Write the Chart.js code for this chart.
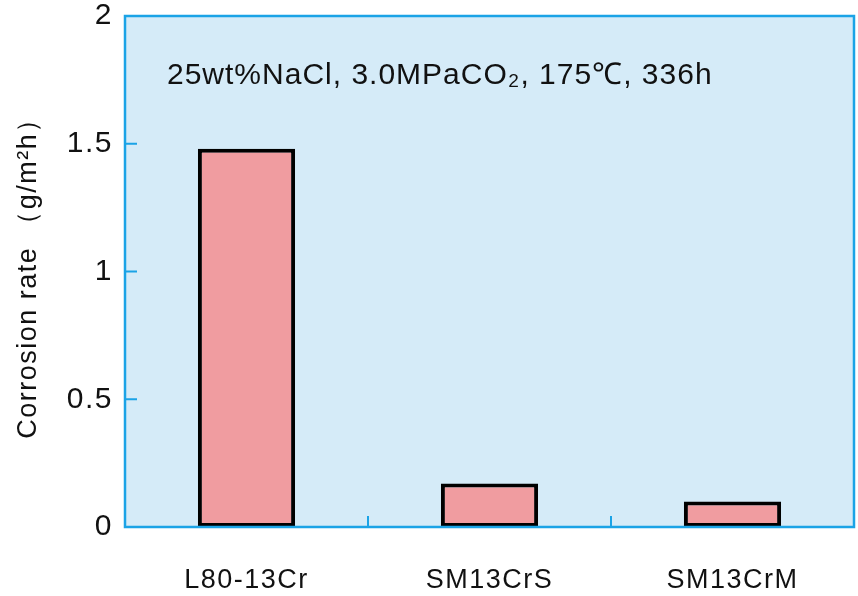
<!DOCTYPE html>
<html>
<head>
<meta charset="utf-8">
<script src="https://cdn.jsdelivr.net/npm/chart.js@4/dist/chart.umd.min.js"></script>
<style>
  html, body { margin: 0; padding: 0; background: #fff; }
  #wrap { width: 858px; height: 596px; }
</style>
</head>
<body>
<div id="wrap"><canvas id="chart" width="858" height="596"></canvas></div>
<script>
// Data
const steels = ['L80-13Cr', 'SM13CrS', 'SM13CrM'];
const corrosionRate = [1.48, 0.17, 0.10];
const yTicks = [0, 0.5, 1, 1.5, 2];
const condition = '25wt%NaCl, 3.0MPaCO₂, 175℃, 336h';

const FONT = '"Liberation Sans", Arial, sans-serif';
const FRAME = '#1ba3e6';

// Light blue plot background, frame and inner ticks
const framePlugin = {
    id: 'frame',
    beforeDraw(chart) {
        // the reference type is set a little wider than Liberation Sans
        chart.ctx.letterSpacing = '1.5px';
    },
    beforeDatasetsDraw(chart) {
        const { ctx, chartArea: a } = chart;
        ctx.save();
        ctx.fillStyle = '#d5ebf8';
        ctx.fillRect(a.left, a.top, a.right - a.left, a.bottom - a.top);
        ctx.fillStyle = '#111';
        ctx.font = '30px ' + FONT;
        ctx.letterSpacing = '1px';
        ctx.textBaseline = 'middle';
        ctx.fillText(condition, a.left + 42, a.top + 60);
        ctx.restore();
    },
    afterDatasetsDraw(chart) {
        const { ctx, chartArea: a, scales } = chart;
        ctx.save();
        ctx.strokeStyle = FRAME;
        ctx.lineWidth = 2.5;
        ctx.strokeRect(a.left, a.top, a.right - a.left, a.bottom - a.top);
        ctx.lineWidth = 2;
        ctx.beginPath();
        yTicks.forEach(v => {
            const y = scales.y.getPixelForValue(v);
            ctx.moveTo(a.left, y);
            ctx.lineTo(a.left + 12, y);
        });
        // ticks between categories on the x axis
        for (let i = 0; i < steels.length - 1; i++) {
            const x = (scales.x.getPixelForValue(i) + scales.x.getPixelForValue(i + 1)) / 2;
            ctx.moveTo(x, a.bottom);
            ctx.lineTo(x, a.bottom - 11);
        }
        ctx.stroke();
        ctx.restore();
    }
};

new Chart(document.getElementById('chart'), {
    type: 'bar',
    data: {
        labels: steels,
        datasets: [{
            data: corrosionRate,
            backgroundColor: '#f09ca0',
            borderColor: '#000',
            borderWidth: 4,
            borderSkipped: false,
            categoryPercentage: 1,
            barPercentage: 0.4
        }]
    },
    options: {
        responsive: false,
        animation: false,
        layout: { padding: { top: 0, right: 4, left: 0, bottom: 0 } },
        plugins: {
            legend: { display: false },
            tooltip: { enabled: false }
        },
        scales: {
            x: {
                grid: { display: false },
                border: { display: false },
                ticks: { color: '#111', font: { family: FONT, size: 27 }, padding: 29 },
                afterFit(s) { s.height = 69; }
            },
            y: {
                min: 0,
                max: 2,
                afterBuildTicks(s) { s.ticks = yTicks.map(v => ({ value: v })); },
                grid: { display: false },
                border: { display: false },
                ticks: {
                    color: '#111',
                    font: { family: FONT, size: 30, lineHeight: 0.8 },
                    padding: 4,
                    callback: v => String(v)
                },
                title: {
                    display: true,
                    text: 'Corrosion rate （g/m²h）',
                    color: '#111',
                    font: { family: FONT, size: 27 },
                    padding: { top: 12, bottom: 6 }
                },
                afterFit(s) { s.width = 125; }
            }
        }
    },
    plugins: [framePlugin]
});
</script>
</body>
</html>
